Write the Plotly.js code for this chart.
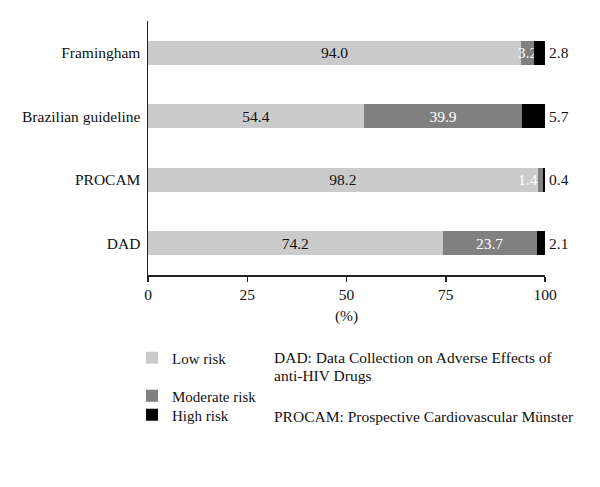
<!DOCTYPE html>
<html>
<head>
<meta charset="utf-8">
<script src="https://cdn.plot.ly/plotly-3.0.1.min.js"></script>
<style>html,body{margin:0;padding:0;background:#fff;}#chart{width:600px;height:487px;}</style>
</head>
<body>
<div id="chart"></div>
<script>
const categories = ['DAD', 'PROCAM', 'Brazilian guideline', 'Framingham'];
const lowRisk = [74.2, 98.2, 54.4, 94.0];
const moderateRisk = [23.7, 1.4, 39.9, 3.2];
const highRisk = [2.1, 0.4, 5.7, 2.8];
const xTicks = [0, 25, 50, 75, 100];
const seriesNames = ['Low risk', 'Moderate risk', 'High risk'];
const notes = ['DAD: Data Collection on Adverse Effects of', 'anti-HIV Drugs', 'PROCAM: Prospective Cardiovascular Münster'];

const FONT = 'Liberation Serif, Times New Roman, serif';
const FS = 15.5;
const round3 = v => Math.round(v * 1000) / 1000;
const common = {
  type: 'bar', orientation: 'h', y: categories,
  texttemplate: '%{x:.1f}', textangle: 0, constraintext: 'none',
  cliponaxis: false, hoverinfo: 'skip'
};
// very narrow moderate segments get their label from an annotation instead
const narrow = moderateRisk.map(v => v < 2);
const data = [
  Object.assign({}, common, {name: seriesNames[0], x: lowRisk, legend: 'legend',
    marker: {color: '#cbcbcb', line: {width: 0}}, textposition: 'inside', insidetextanchor: 'middle',
    insidetextfont: {family: FONT, size: FS, color: '#111'}}),
  Object.assign({}, common, {name: seriesNames[1], x: moderateRisk, legend: 'legend2',
    marker: {color: '#808080', line: {width: 0}},
    textposition: narrow.map(n => n ? 'none' : 'inside'), insidetextanchor: 'middle',
    insidetextfont: {family: FONT, size: FS, color: '#ffffff'}}),
  Object.assign({}, common, {name: seriesNames[2], x: highRisk, legend: 'legend3',
    marker: {color: '#000000', line: {width: 0}}, textposition: 'none'})
];

const annotations = [];
categories.forEach((c, i) => {
  annotations.push({xref: 'x', yref: 'y', x: round3(lowRisk[i] + moderateRisk[i] + highRisk[i]), y: c,
    text: highRisk[i].toFixed(1), xanchor: 'left', yanchor: 'middle', xshift: 2, showarrow: false,
    font: {family: FONT, size: FS, color: '#111'}});
  if (narrow[i]) {
    annotations.push({xref: 'x', yref: 'y', x: round3(lowRisk[i] + moderateRisk[i]), y: c,
      text: moderateRisk[i].toFixed(1), xanchor: 'right', yanchor: 'middle', xshift: -3, showarrow: false,
      font: {family: FONT, size: FS, color: '#ffffff'}});
  }
});
const toPY = p => (275 - p) / 254;
annotations.push(
  {xref: 'paper', yref: 'paper', x: 0.3123, y: toPY(358), xanchor: 'left', yanchor: 'middle',
   text: notes[0], showarrow: false, font: {family: FONT, size: FS, color: '#111'}},
  {xref: 'paper', yref: 'paper', x: 0.3123, y: toPY(375), xanchor: 'left', yanchor: 'middle',
   text: notes[1], showarrow: false, font: {family: FONT, size: FS, color: '#111'}},
  {xref: 'paper', yref: 'paper', x: 0.3123, y: toPY(416), xanchor: 'left', yanchor: 'middle',
   text: notes[2], showarrow: false, font: {family: FONT, size: FS, color: '#111'}}
);
const legendBase = {x: -0.0403, xanchor: 'left', yanchor: 'middle',
  font: {family: FONT, size: 15, color: '#111'}, bgcolor: 'rgba(0,0,0,0)', borderwidth: 0};

const layout = {
  width: 600, height: 487,
  margin: {l: 148, r: 55, t: 21, b: 212, pad: 0},
  paper_bgcolor: '#fff', plot_bgcolor: '#fff',
  barmode: 'stack', bargap: 0.624,
  font: {family: FONT, size: FS, color: '#111'},
  xaxis: {range: [0, 100], tickvals: xTicks, ticktext: xTicks.map(String),
    showgrid: false, zeroline: false, showline: true, linecolor: '#222', linewidth: 1.5,
    ticks: 'outside', ticklen: 5, tickwidth: 1.5, tickcolor: '#222',
    tickfont: {family: FONT, size: FS, color: '#111'},
    title: {text: '(%)', font: {family: FONT, size: FS, color: '#111'}, standoff: 8}, fixedrange: true},
  yaxis: {range: [-0.5, 3.5], showgrid: false, zeroline: false, showline: true, linecolor: '#222', linewidth: 1.5,
    ticks: '', ticklabelstandoff: 3, tickfont: {family: FONT, size: FS, color: '#111'}, fixedrange: true},
  showlegend: true,
  legend: Object.assign({}, legendBase, {y: toPY(358)}),
  legend2: Object.assign({}, legendBase, {y: toPY(396)}),
  legend3: Object.assign({}, legendBase, {y: toPY(415)}),
  annotations: annotations
};
Plotly.newPlot('chart', data, layout, {displayModeBar: false, staticPlot: true});
</script>
</body>
</html>
